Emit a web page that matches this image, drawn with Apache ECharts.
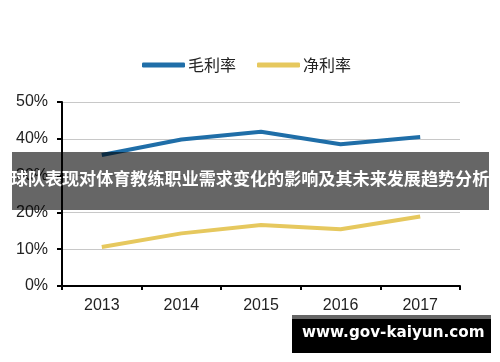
<!DOCTYPE html>
<html>
<head>
<meta charset="utf-8">
<style>html,body{margin:0;padding:0;background:#fff}#c{width:500px;height:362px}</style>
<script src="https://cdn.jsdelivr.net/npm/echarts@6/dist/echarts.min.js"></script>
</head>
<body>
<div id="c"></div>
<script>
var years = ['2013', '2014', '2015', '2016', '2017'];
var grossMargin = [35.6, 39.8, 41.9, 38.5, 40.5];
var netMargin = [10.6, 14.3, 16.6, 15.4, 18.9];
var seriesNames = ['毛利率', '净利率'];
var bannerText = '球队表现对体育教练职业需求变化的影响及其未来发展趋势分析';
var watermark = 'www.gov-kaiyun.com';

var chart = echarts.init(document.getElementById('c'), null, {renderer: 'canvas'});
chart.setOption({
  animation: false,
  backgroundColor: '#fff',
  legend: {
    left: 137, top: 52,
    itemWidth: 43, itemHeight: 5, itemGap: 21,
    icon: 'roundRect',
    textStyle: {fontFamily: 'Noto Sans CJK SC', fontSize: 16, color: '#222', padding: [0, 0, 0, -2]},
    data: seriesNames
  },
  grid: {left: 62, right: 40, top: 102, bottom: 76, containLabel: false},
  xAxis: {
    type: 'category', data: years, boundaryGap: true,
    axisLine: {lineStyle: {color: '#000', width: 2}},
    axisTick: {show: true, length: 4, lineStyle: {color: '#000', width: 2}},
    axisLabel: {fontFamily: 'Liberation Sans', fontSize: 16, color: '#222', margin: 12}
  },
  yAxis: {
    type: 'value', min: 0, max: 50, interval: 10,
    axisLine: {show: true, lineStyle: {color: '#000', width: 2}},
    axisTick: {show: true, length: 5, lineStyle: {color: '#000', width: 2}},
    splitLine: {lineStyle: {color: '#c8c8c8', width: 1}},
    axisLabel: {formatter: '{value}%', fontFamily: 'Liberation Sans', fontSize: 16, color: '#222', margin: 14}
  },
  series: [
    {name: seriesNames[0], type: 'line', data: grossMargin, symbol: 'none',
     lineStyle: {width: 4, color: '#1f6ea8'}, itemStyle: {color: '#1f6ea8'}},
    {name: seriesNames[1], type: 'line', data: netMargin, symbol: 'none',
     lineStyle: {width: 4, color: '#e6c85e'}, itemStyle: {color: '#e6c85e'}}
  ],
  graphic: [
    {type: 'rect', left: 12, top: 152, shape: {width: 477, height: 58}, style: {fill: 'rgba(0,0,0,0.6)'}, z: 100},
    {type: 'text', left: 'center', top: 170, style: {text: bannerText, fill: '#fff', font: 'bold 17.1px "Noto Sans CJK SC"'}, z: 101},
    {type: 'rect', left: 292, top: 315, shape: {width: 199, height: 38}, style: {fill: '#000'}, z: 100},
    {type: 'rect', left: 292, top: 315, shape: {width: 199, height: 4}, style: {fill: '#666'}, z: 101},
    {type: 'text', left: 302, top: 326, style: {text: watermark, fill: '#fff', font: 'bold 15.2px "DejaVu Sans"'}, z: 101}
  ]
});
</script>
</body>
</html>
